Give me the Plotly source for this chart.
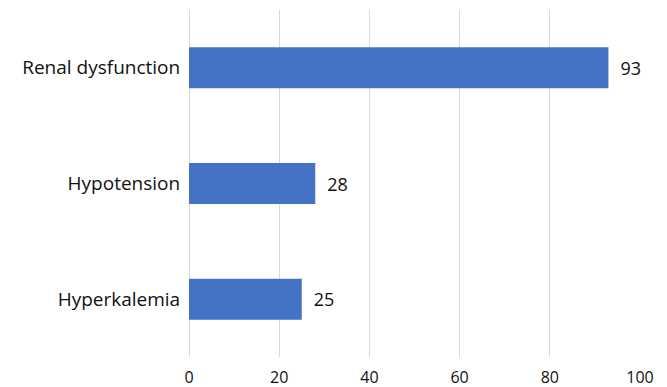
import plotly.graph_objects as go

categories = ["Renal dysfunction", "Hypotension", "Hyperkalemia"]
values = [93, 28, 25]
x_ticks = [0, 20, 40, 60, 80, 100]

fig = go.Figure(go.Bar(
    y=categories,
    x=values,
    orientation="h",
    marker=dict(color="#4472C4", line=dict(width=0)),
    text=[str(v) for v in values],
    texttemplate="\u2002%{text}",
    textposition="outside",
    textfont=dict(size=18, color="#111111", family="Open Sans"),
    cliponaxis=False,
))

fig.update_layout(
    width=667, height=387,
    margin=dict(l=189, r=27, t=10, b=30, autoexpand=False),
    paper_bgcolor="white", plot_bgcolor="white",
    bargap=0.646,
    showlegend=False,
    font=dict(family="Open Sans", color="#111111"),
)
fig.update_xaxes(
    range=[0, 100], tickvals=x_ticks, showgrid=True, gridcolor="#D9D9D9", gridwidth=1,
    zeroline=True, zerolinecolor="#D9D9D9", zerolinewidth=1, showline=False,
    ticks="outside", ticklen=6, tickcolor="rgba(0,0,0,0)", automargin=False,
    tickfont=dict(size=16, color="#111111"),
)
fig.update_yaxes(
    categoryorder="array", categoryarray=categories[::-1],
    showgrid=False, zeroline=False, showline=False,
    ticks="outside", ticklen=4, tickcolor="rgba(0,0,0,0)", automargin=False,
    tickfont=dict(size=19, color="#111111"),
)

fig.write_html("out.html")
